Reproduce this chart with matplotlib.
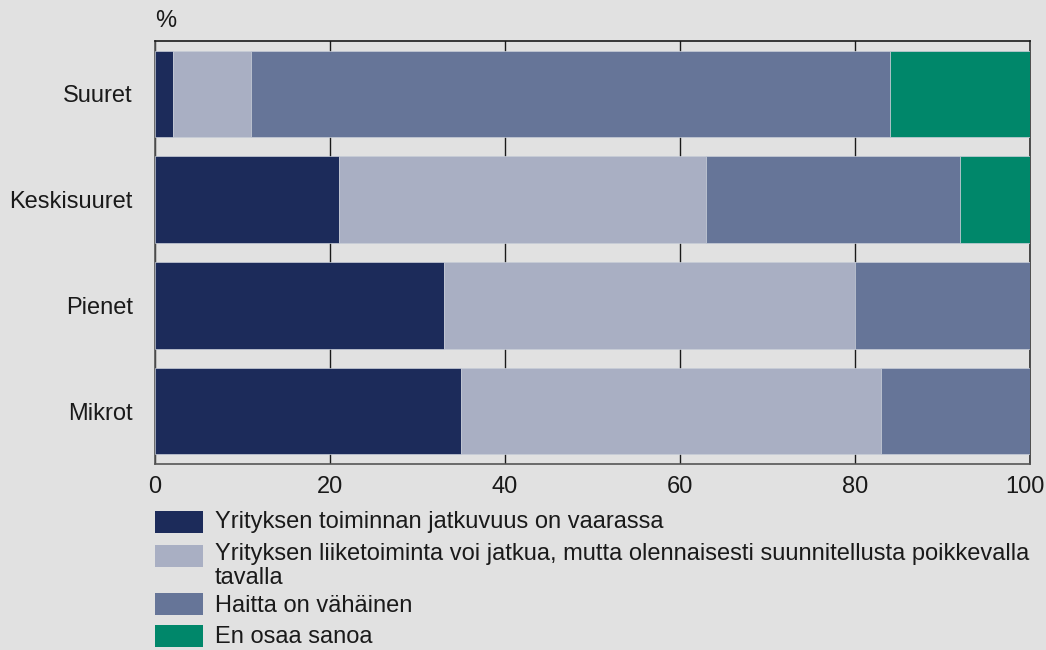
import matplotlib.pyplot as plt
import matplotlib.transforms as mtransforms
import numpy as np

plt.rcParams['font.family'] = ['Liberation Sans', 'DejaVu Sans']

# Luokat ja osuudet (%)
categories = ["Suuret", "Keskisuuret", "Pienet", "Mikrot"]
series_labels = [
    "Yrityksen toiminnan jatkuvuus on vaarassa",
    "Yrityksen liiketoiminta voi jatkua, mutta olennaisesti suunnitellusta poikkevalla\ntavalla",
    "Haitta on vähäinen",
    "En osaa sanoa",
]
vaarassa = [2, 21, 33, 35]
poikkeava = [9, 42, 47, 48]
vahainen = [73, 29, 20, 17]
ei_osaa = [16, 8, 0, 0]
colors = ["#1c2b5a", "#a9afc3", "#667598", "#00876a"]
xticks = [0, 20, 40, 60, 80, 100]

bg = "#e1e1e1"
fs = 17
fig = plt.figure(figsize=(10.46, 6.5), dpi=100, facecolor=bg)
ax = fig.add_axes([0.1482, 0.2862, 0.8365, 0.6507], facecolor=bg)

y = np.arange(len(categories))
left = np.zeros(len(categories))
for vals, c in zip([vaarassa, poikkeava, vahainen, ei_osaa], colors):
    ax.barh(y, vals, left=left, height=0.82, color=c, edgecolor="#c8cdd8",
            linewidth=0.5, zorder=3)
    left += np.array(vals)

ax.set_xlim(0, 100)
ax.set_ylim(3.5, -0.5)
ax.set_xticks(xticks)
ax.set_xticklabels([str(t) for t in xticks], fontsize=fs, color="#1a1a1a")
ax.set_yticks(y)
ax.set_yticklabels(categories, fontsize=fs, color="#1a1a1a")
ax.tick_params(axis="both", length=0)
ax.tick_params(axis="x", pad=9)
ax.tick_params(axis="y", pad=16)
# viimeinen tikki hieman vasemmalle, ettei leikkaudu
last = ax.get_xticklabels()[-1]
last.set_transform(last.get_transform() + mtransforms.ScaledTranslation(-5 / 100, 0, fig.dpi_scale_trans))
ax.grid(axis="x", color="#1a1a1a", linewidth=1, zorder=1)
ax.set_axisbelow(True)
ax.spines["top"].set_color("#1a1a1a")
ax.spines["right"].set_color("#333333")
ax.spines["left"].set_color("#555555")
ax.spines["bottom"].set_color("#555555")
for s in ax.spines.values():
    s.set_linewidth(1.2)

fig.text(155 / 1046, 1 - 21 / 650, "%", fontsize=fs, color="#1a1a1a", va="center")

# Selite
patch_y = [522, 556, 604, 636]
text_y = [522, 566, 606, 637]
for lab, c, py, ty in zip(series_labels, colors, patch_y, text_y):
    fig.patches.append(plt.Rectangle((155 / 1046, 1 - (py + 11) / 650), 48 / 1046, 22 / 650,
                                     transform=fig.transFigure, facecolor=c, edgecolor="none"))
    fig.text(215 / 1046, 1 - ty / 650, lab, fontsize=fs, color="#1a1a1a",
             va="center", linespacing=1.1)

fig.savefig("out.png", dpi=100, facecolor=bg)
